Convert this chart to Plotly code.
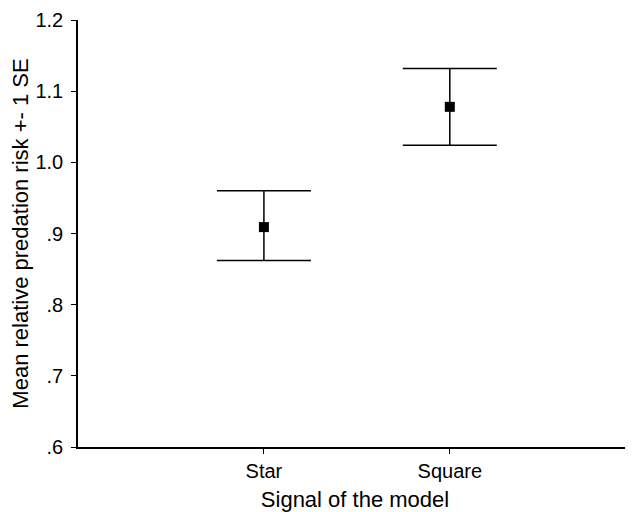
import plotly.graph_objects as go

categories = ["Star", "Square"]
means = [0.909, 1.078]
upper = [0.960, 1.132]
lower = [0.862, 1.024]
ytick_vals = [0.6, 0.7, 0.8, 0.9, 1.0, 1.1, 1.2]
ytick_text = [".6", ".7", ".8", ".9", "1.0", "1.1", "1.2"]

xpos = list(range(len(categories)))
err_plus = [u - m for u, m in zip(upper, means)]
err_minus = [m - l for m, l in zip(means, lower)]

font = "Liberation Sans, Arial, sans-serif"

fig = go.Figure(go.Scatter(
    x=xpos, y=means, mode="markers",
    marker=dict(symbol="square", size=10, color="black"),
    error_y=dict(type="data", symmetric=False, array=err_plus, arrayminus=err_minus,
                 color="black", thickness=1.5, width=47),
    showlegend=False,
))

fig.update_layout(
    width=625, height=504,
    margin=dict(l=70, r=1, t=8, b=65),
    paper_bgcolor="white", plot_bgcolor="white",
    font=dict(family=font, color="black"),
    xaxis=dict(range=[-1.0, 1.98], tickvals=xpos, ticktext=categories,
               showgrid=False, zeroline=False, showline=True, linecolor="black", linewidth=1.5,
               ticks="outside", ticklen=5, tickwidth=1, tickcolor="black",
               tickfont=dict(size=20),
               title=dict(text="Signal of the model", font=dict(size=22), standoff=13)),
    yaxis=dict(range=[0.6, 1.2], tickvals=ytick_vals, ticktext=ytick_text,
               showgrid=False, zeroline=False, showline=True, linecolor="black", linewidth=1.5,
               ticks="outside", ticklen=5, tickwidth=1, tickcolor="black",
               ticklabelstandoff=4, ticklabeloverflow="allow",
               tickfont=dict(size=20),
               title=dict(text="Mean relative predation risk +- 1 SE", font=dict(size=22), standoff=4)),
)

fig.write_html("out.html")
